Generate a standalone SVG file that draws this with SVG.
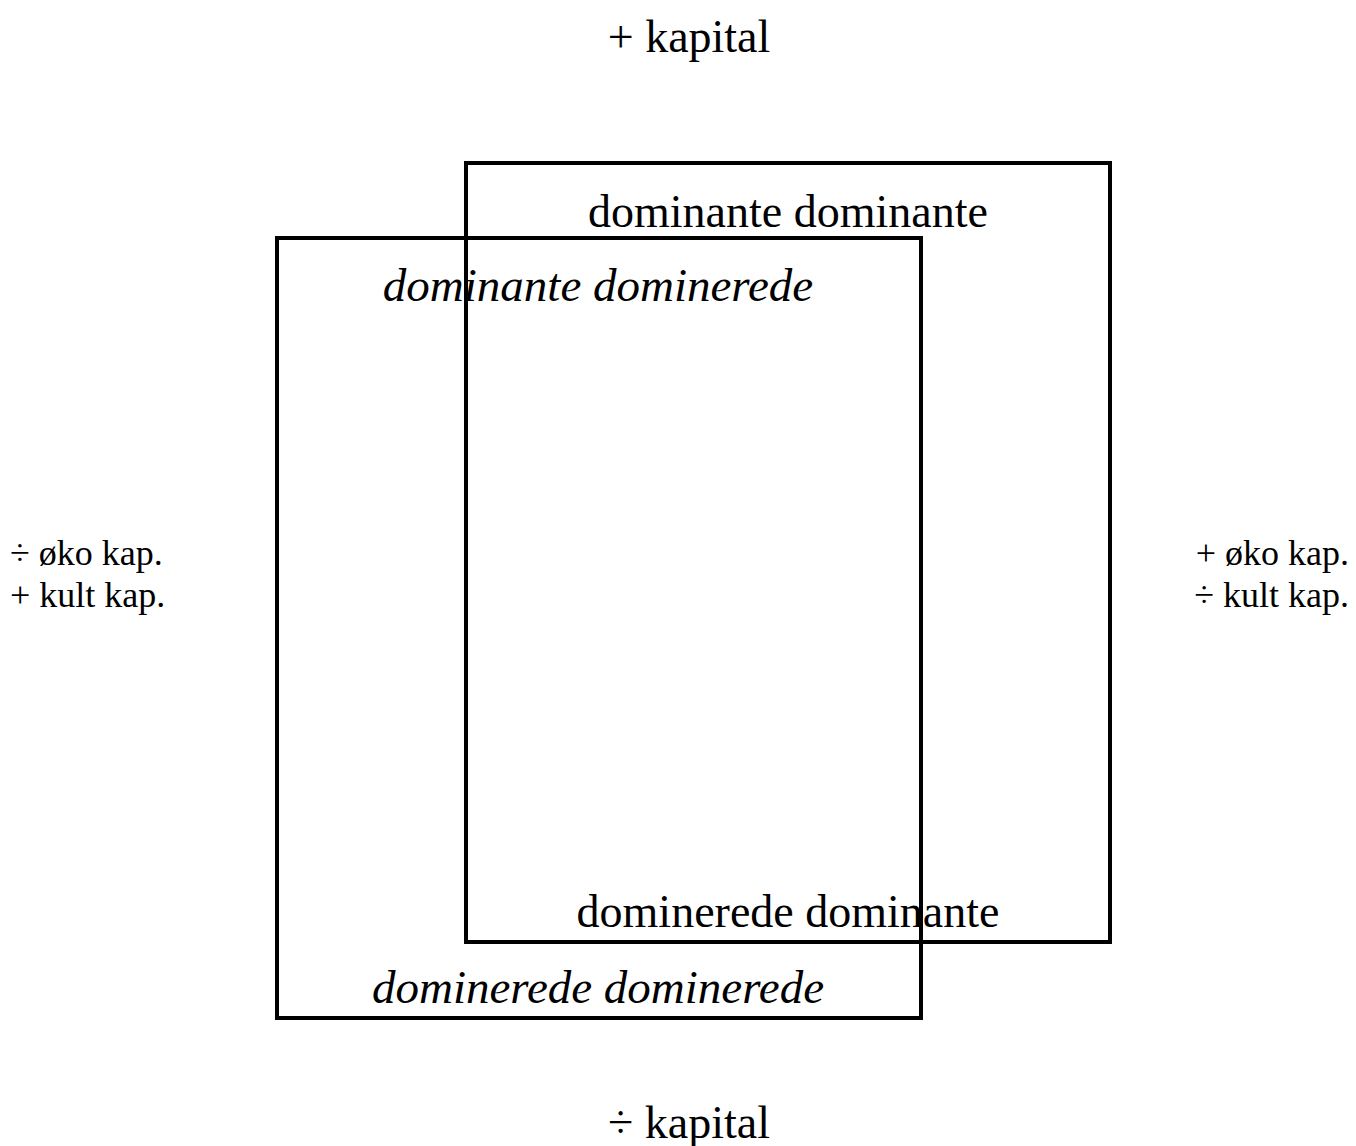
<svg xmlns="http://www.w3.org/2000/svg" width="1356" height="1146" viewBox="0 0 1356 1146">
<style>
.t{font-family:"Liberation Serif","Times New Roman",serif;fill:#000}
.big{font-size:46px}
.sm{font-size:36px}
.it{font-style:italic;font-size:47px}
.box{fill:none;stroke:#000;stroke-width:4}
</style>
<rect width="1356" height="1146" fill="#fff"/>
<g id="box-dominante">
<rect class="box" x="466" y="163" width="644" height="779"/>
<text class="t big" x="788" y="227" text-anchor="middle">dominante dominante</text>
<text class="t big" x="788" y="927" text-anchor="middle">dominerede dominante</text>
</g>
<g id="box-dominerede">
<rect class="box" x="277" y="238" width="644" height="780"/>
<text class="t big it" x="598" y="301" text-anchor="middle">dominante dominerede</text>
<text class="t big it" x="598" y="1003" text-anchor="middle">dominerede dominerede</text>
</g>
<g id="axis-top"><text class="t big" x="689" y="52" text-anchor="middle">+ kapital</text></g>
<g id="axis-bottom"><text class="t big" x="689" y="1138" text-anchor="middle">÷ kapital</text></g>
<g id="axis-left">
<text class="t sm" x="10" y="565">÷ øko kap.</text>
<text class="t sm" x="10" y="607">+ kult kap.</text>
</g>
<g id="axis-right">
<text class="t sm" x="1349" y="565" text-anchor="end">+ øko kap.</text>
<text class="t sm" x="1349" y="607" text-anchor="end">÷ kult kap.</text>
</g>
<g id="connectors"></g>
</svg>
